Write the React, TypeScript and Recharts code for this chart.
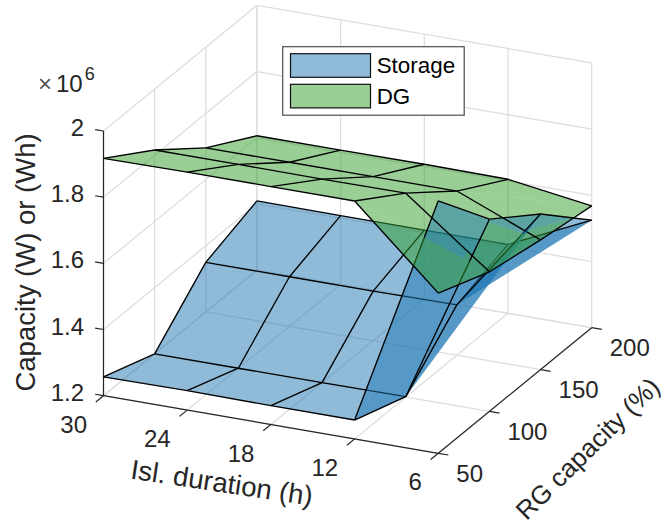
import React from "react";
import { ScatterChart, Scatter, XAxis, YAxis } from "recharts";

const W = 667;
const H = 526;

// ---- data (capacity in units of 10^6) ----
const DURATIONS = [6, 12, 18, 24, 30];
const RG_CAPACITIES = [50, 100, 150, 200];
const Z_TICKS = [1.2, 1.4, 1.6, 1.8, 2];
const Z_TICK_LABELS = ["1.2", "1.4", "1.6", "1.8", "2"];
const storageRG50 = [1.963, 1.257, 1.257, 1.259, 1.257];
const storageRG100 = [1.781, 1.201, 1.2, 1.2, 1.2];
const storageRG150 = [1.67, 1.352, 1.35, 1.35, 1.35];
const storageRG200 = [1.525, 1.408, 1.408, 1.408, 1.409];
const dgRG50 = [1.684, 1.919, 1.919, 1.919, 1.917];
const dgRG100 = [1.622, 1.816, 1.815, 1.816, 1.816];
const dgRG150 = [1.592, 1.696, 1.696, 1.696, 1.696];
const dgRG200 = [1.568, 1.605, 1.607, 1.606, 1.606];
const SERIES_NAMES = ["Storage", "DG"];

const STORAGE = [storageRG50, storageRG100, storageRG150, storageRG200];
const DG = [dgRG50, dgRG100, dgRG150, dgRG200];

// ---- 3D box projection ----
const Z_MIN = 1.2;
const toU = (d: number) => (d - DURATIONS[0]) / (DURATIONS[4] - DURATIONS[0]);
const toV = (r: number) => (r - RG_CAPACITIES[0]) / (RG_CAPACITIES[3] - RG_CAPACITIES[0]);
const pt = (u: number, v: number, z: number) => ({
  x: 438.3 - 334.8 * u + 153.4 * v,
  y: 453.3 - 57.6 * u - 125.6 * v - (z - Z_MIN) * 330.9,
});
const front = (u: number, v: number, z: number) => -142 * u - 310 * v + (107 * (z - Z_MIN)) / 0.8;

type Node = { u: number; v: number; s: number; g: number };
type Pt = { x: number; y: number };
type Item = { kind: "fill" | "edge"; surf: "s" | "g"; pts: Pt[]; f: number; i?: number; j?: number; side?: number };

const BLUE = "#1f78b4";
const GREEN = "#33a02c";
const INK = "#262626";
const FONT = "'Liberation Sans', Arial, sans-serif";

const node = (i: number, j: number): Node => ({
  u: toU(DURATIONS[i]),
  v: toV(RG_CAPACITIES[j]),
  s: STORAGE[j][i],
  g: DG[j][i],
});
const lerpNode = (a: Node, b: Node, t: number): Node => ({
  u: a.u + (b.u - a.u) * t,
  v: a.v + (b.v - a.v) * t,
  s: a.s + (b.s - a.s) * t,
  g: a.g + (b.g - a.g) * t,
});
const hOf = (n: Node) => n.s - n.g;

function clipSide(poly: Node[], side: number): Node[] {
  const out: Node[] = [];
  poly.forEach((a, k) => {
    const b = poly[(k + 1) % poly.length];
    const ha = hOf(a) * side;
    const hb = hOf(b) * side;
    if (ha >= 0) out.push(a);
    if ((ha > 0 && hb < 0) || (ha < 0 && hb > 0)) out.push(lerpNode(a, b, ha / (ha - hb)));
  });
  return out;
}

const toPts = (ns: Node[], surf: "s" | "g") => ns.map((n) => pt(n.u, n.v, n[surf]));
const centroidF = (ns: Node[], surf: "s" | "g") =>
  ns.reduce((acc, n) => acc + front(n.u, n.v, n[surf]), 0) / ns.length;
const area = (p: Pt[]) =>
  (p[1].x - p[0].x) * (p[2].y - p[0].y) - (p[2].x - p[0].x) * (p[1].y - p[0].y);

function buildItems(): Item[] {
  const fills: Item[] = [];
  for (const surf of ["s", "g"] as const) {
    for (let i = 0; i < DURATIONS.length - 1; i++) {
      for (let j = 0; j < RG_CAPACITIES.length - 1; j++) {
        const A = node(i, j);
        const B = node(i + 1, j);
        const C = node(i + 1, j + 1);
        const D = node(i, j + 1);
        const signs = [A, B, C, D].map((n) => Math.sign(hOf(n)));
        const crossing = signs.some((s) => s !== signs[0]);
        const a1 = area(toPts([A, B, D], surf));
        const a2 = area(toPts([B, C, D], surf));
        if (!crossing && a1 * a2 > 0) {
          const q = [A, B, C, D];
          fills.push({ kind: "fill", surf, pts: toPts(q, surf), f: centroidF(q, surf), i, j, side: signs[0] });
        } else {
          for (const tri of [[A, B, D], [B, C, D]]) {
            for (const side of [1, -1]) {
              const poly = clipSide(tri, side);
              if (poly.length >= 3)
                fills.push({ kind: "fill", surf, pts: toPts(poly, surf), f: centroidF(poly, surf), i, j, side });
            }
          }
        }
      }
    }
  }
  const edges: Item[] = [];
  const addEdge = (surf: "s" | "g", a: Node, b: Node, cells: number[][]) => {
    const ha = hOf(a);
    const hb = hOf(b);
    const segs: Node[][] = ha * hb < 0 ? (() => {
      const m = lerpNode(a, b, ha / (ha - hb));
      return [[a, m], [m, b]];
    })() : [[a, b]];
    for (const seg of segs) {
      const side = Math.sign(hOf(seg[0]) + hOf(seg[1]));
      const adj = fills.filter((p) => p.surf === surf && cells.some(([ci, cj]) => p.i === ci && p.j === cj));
      const same = adj.filter((p) => p.side === side);
      const use = same.length ? same : adj;
      const f = Math.max(...use.map((p) => p.f)) + 0.01;
      edges.push({ kind: "edge", surf, pts: toPts(seg, surf), f });
    }
  };
  for (const surf of ["s", "g"] as const) {
    for (let i = 0; i < DURATIONS.length; i++) {
      for (let j = 0; j < RG_CAPACITIES.length; j++) {
        if (i < DURATIONS.length - 1) addEdge(surf, node(i, j), node(i + 1, j), [[i, j - 1], [i, j]]);
        if (j < RG_CAPACITIES.length - 1) addEdge(surf, node(i, j), node(i, j + 1), [[i - 1, j], [i, j]]);
      }
    }
  }
  return [...fills, ...edges].sort((a, b) => a.f - b.f);
}

// ---- box lines ----
function seg(a: Pt, b: Pt): Pt[] {
  return [a, b];
}
const gridLines: Pt[][] = [];
DURATIONS.forEach((d) => {
  const u = toU(d);
  gridLines.push(seg(pt(u, 0, Z_MIN), pt(u, 1, Z_MIN)));
  gridLines.push(seg(pt(u, 1, Z_MIN), pt(u, 1, 2)));
});
RG_CAPACITIES.forEach((r) => {
  const v = toV(r);
  gridLines.push(seg(pt(0, v, Z_MIN), pt(1, v, Z_MIN)));
  gridLines.push(seg(pt(1, v, Z_MIN), pt(1, v, 2)));
});
Z_TICKS.forEach((z) => {
  gridLines.push(seg(pt(1, 0, z), pt(1, 1, z)));
  gridLines.push(seg(pt(1, 1, z), pt(0, 1, z)));
});

const axisLines: Pt[][] = [
  seg(pt(1, 0, Z_MIN), pt(1, 0, 2)),
  seg(pt(1, 0, Z_MIN), pt(0, 0, Z_MIN)),
  seg(pt(0, 0, Z_MIN), pt(0, 1, Z_MIN)),
];
DURATIONS.forEach((d) => axisLines.push(seg(pt(toU(d), 0, Z_MIN), pt(toU(d), -0.05, Z_MIN))));
RG_CAPACITIES.forEach((r) => axisLines.push(seg(pt(0, toV(r), Z_MIN), pt(-0.03, toV(r), Z_MIN))));
Z_TICKS.forEach((z) => axisLines.push(seg(pt(1, 0, z), pt(1.025, 0, z))));

// ---- text ----
type Lbl = { x: number; y: number; text: string; anchor: string; size: number; rot?: number };
const labels: Lbl[] = [];
DURATIONS.forEach((d) => {
  const p = pt(toU(d), 0, Z_MIN);
  labels.push({ x: p.x - 16.5, y: p.y + 37, text: String(d), anchor: "end", size: 24 });
});
RG_CAPACITIES.forEach((r) => {
  const p = pt(0, toV(r), Z_MIN);
  labels.push({ x: p.x + 18, y: p.y + 28.5, text: String(r), anchor: "start", size: 24 });
});
Z_TICKS.forEach((z, k) => {
  const p = pt(1, 0, z);
  labels.push({ x: 84, y: p.y + 5, text: Z_TICK_LABELS[k], anchor: "end", size: 24 });
});
labels.push({ x: 220.5, y: 492, text: "Isl. duration (h)", anchor: "middle", size: 27.5, rot: 8.5 });
labels.push({ x: 35, y: 262.5, text: "Capacity (W) or (Wh)", anchor: "middle", size: 27.5, rot: -90 });
labels.push({ x: 594, y: 455, text: "RG capacity (%)", anchor: "middle", size: 26, rot: -44.5 });

const LabelShape = (p: any) => {
  const l = p.payload as Lbl;
  return (
    <text
      x={p.cx}
      y={p.cy}
      textAnchor={l.anchor as any}
      fontSize={l.size}
      fontFamily={FONT}
      fill={INK}
      transform={l.rot ? `rotate(${l.rot} ${p.cx} ${p.cy})` : undefined}
    >
      {l.text}
    </text>
  );
};

const ExponentShape = (p: any) => (
  <text x={p.cx} y={p.cy} fontFamily={FONT} fill={INK} fontSize={24}>
    <tspan fill="#555">×</tspan>
    <tspan dx={4}>10</tspan>
    <tspan fontSize={18} dx={2} dy={-12}>6</tspan>
  </text>
);

const LegendShape = (p: any) => {
  const x = p.cx;
  const y = p.cy;
  const rows = [
    { name: SERIES_NAMES[0], color: BLUE, top: 7 },
    { name: SERIES_NAMES[1], color: GREEN, top: 37.6 },
  ];
  return (
    <g>
      <rect x={x} y={y} width={181.5} height={68.5} fill="#fff" stroke="#4d4d4d" strokeWidth={1.2} />
      {rows.map((r) => (
        <g key={r.name}>
          <rect x={x + 7.8} y={y + r.top} width={80} height={23.6} fill={r.color} fillOpacity={0.5} stroke="#111" strokeWidth={1.2} />
          <text x={x + 94} y={y + r.top + 19.5} fontFamily={FONT} fontSize={22.4} fill="#000">
            {r.name}
          </text>
        </g>
      ))}
    </g>
  );
};

const Nothing = () => <g />;
const pointsOf = (pts: { x: number; y: number }[]) => pts.map((q) => `${q.x},${q.y}`).join(" ");
const lineRenderer = (stroke: string, width: number) => (props: any) => (
  <polyline points={pointsOf(props.points)} fill="none" stroke={stroke} strokeWidth={width} />
);
const fillRenderer = (color: string) => (props: any) => (
  <polygon points={pointsOf(props.points)} fill={color} fillOpacity={0.5} stroke="none" />
);

const items = buildItems();

export default function App() {
  return (
    <div style={{ position: "absolute", left: 0, top: 0, width: W, height: H, background: "#fff" }}>
      <ScatterChart width={W} height={H} margin={{ top: 0, right: 0, bottom: 0, left: 0 }}>
        <XAxis type="number" dataKey="x" domain={[0, W]} hide />
        <YAxis type="number" dataKey="y" domain={[0, H]} reversed hide />
        {gridLines.map((d, k) => (
          <Scatter key={`g${k}`} data={d} isAnimationActive={false} shape={Nothing} line={lineRenderer("#dedede", 1.3)} legendType="none" />
        ))}
        {axisLines.map((d, k) => (
          <Scatter key={`a${k}`} data={d} isAnimationActive={false} shape={Nothing} line={lineRenderer(INK, 1.2)} legendType="none" />
        ))}
        {items.map((it, k) => (
          <Scatter
            key={`s${k}`}
            data={it.pts}
            isAnimationActive={false}
            shape={Nothing}
            line={it.kind === "fill" ? fillRenderer(it.surf === "s" ? BLUE : GREEN) : lineRenderer("#000", 1.35)}
            legendType="none"
          />
        ))}
        <Scatter data={labels} isAnimationActive={false} shape={LabelShape} legendType="none" />
        <Scatter data={[{ x: 38, y: 92 }]} isAnimationActive={false} shape={ExponentShape} legendType="none" />
        <Scatter data={[{ x: 282.7, y: 46.7 }]} isAnimationActive={false} shape={LegendShape} legendType="none" />
      </ScatterChart>
    </div>
  );
}
